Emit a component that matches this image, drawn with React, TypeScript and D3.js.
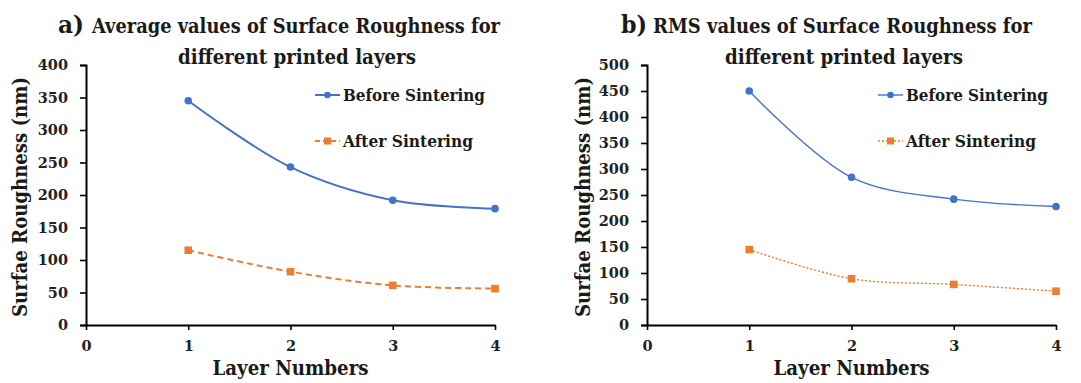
import React, { useEffect, useRef } from "react";
import * as d3 from "d3";

const layers = [1, 2, 3, 4];
const xTicks = [0, 1, 2, 3, 4];
const avgBefore = [345, 243, 192, 179];
const avgAfter = [115, 82, 61, 56];
const rmsBefore = [450, 284, 242, 228];
const rmsAfter = [145, 89, 78, 65];
const avgYTicks = [0, 50, 100, 150, 200, 250, 300, 350, 400];
const rmsYTicks = [0, 50, 100, 150, 200, 250, 300, 350, 400, 450, 500];
const seriesNames = ["Before Sintering", "After Sintering"];

const BLUE = "#4472C4";
const ORANGE = "#ED7D31";
const FONT = "'DejaVu Serif', serif";
const INK = "#1a1a1a";

type PanelCfg = {
  letter: string;
  title1: string;
  title2: string;
  before: number[];
  after: number[];
  yTicks: number[];
  x0: number;
  x1: number;
  letterX: number;
  title1X: number;
  title1W: number;
  title2X: number;
  yLabelX: number;
  legendX: number;
  thin: boolean;
};

const panels: PanelCfg[] = [
  {
    letter: "a)",
    title1: "Average values of Surface Roughness for",
    title2: "different printed layers",
    before: avgBefore,
    after: avgAfter,
    yTicks: avgYTicks,
    x0: 86,
    x1: 495,
    letterX: 58,
    title1X: 92,
    title1W: 408,
    title2X: 178,
    yLabelX: 27,
    legendX: 315,
    thin: false,
  },
  {
    letter: "b)",
    title1: "RMS values of Surface Roughness for",
    title2: "different printed layers",
    before: rmsBefore,
    after: rmsAfter,
    yTicks: rmsYTicks,
    x0: 647,
    x1: 1056,
    letterX: 621,
    title1X: 653,
    title1W: 379,
    title2X: 725,
    yLabelX: 590,
    legendX: 878,
    thin: true,
  },
];

const Y0 = 325;
const Y1 = 65;

export default function App() {
  const ref = useRef<SVGSVGElement>(null);

  useEffect(() => {
    const svg = d3.select(ref.current);
    svg.selectAll("*").remove();

    panels.forEach((p) => {
      const g = svg.append("g");
      const x = d3.scaleLinear().domain([0, 4]).range([p.x0, p.x1]);
      const yMax = p.yTicks[p.yTicks.length - 1];
      const y = d3.scaleLinear().domain([0, yMax]).range([Y0, Y1]);

      const txt = (sel: any) =>
        sel.attr("font-family", FONT).attr("font-weight", "bold").attr("fill", INK);

      // Titles
      g.append("text").attr("x", p.letterX).attr("y", 33).call(txt)
        .attr("font-size", 25).attr("textLength", 26).attr("lengthAdjust", "spacingAndGlyphs")
        .text(p.letter);
      g.append("text").attr("x", p.title1X).attr("y", 33).call(txt)
        .attr("font-size", 19.5).attr("textLength", p.title1W).attr("lengthAdjust", "spacingAndGlyphs")
        .text(p.title1);
      g.append("text").attr("x", p.title2X).attr("y", 64).call(txt)
        .attr("font-size", 19.5).attr("textLength", 238).attr("lengthAdjust", "spacingAndGlyphs")
        .text(p.title2);

      // Y axis
      const ya = g.append("g").attr("transform", `translate(${p.x0},0)`)
        .call(d3.axisLeft(y).tickValues(p.yTicks).tickSize(6).tickPadding(12).tickSizeOuter(6));
      // X axis
      const xa = g.append("g").attr("transform", `translate(0,${Y0})`)
        .call(d3.axisBottom(x).tickValues(xTicks).tickSize(5).tickPadding(11).tickSizeOuter(0).tickFormat(d3.format("d")));
      [ya, xa].forEach((a) => {
        a.select(".domain").attr("stroke", "#000").attr("stroke-width", 2);
        a.selectAll(".tick line").attr("stroke", "#000").attr("stroke-width", 1.6);
        a.selectAll("text").attr("font-family", FONT).attr("font-weight", "bold")
          .attr("font-size", 14.5).attr("fill", "#222");
      });

      // Axis labels
      g.append("text")
        .attr("transform", `translate(${p.yLabelX},${197}) rotate(-90)`)
        .attr("text-anchor", "middle").call(txt)
        .attr("font-size", 20).attr("textLength", 240).attr("lengthAdjust", "spacingAndGlyphs")
        .text("Surfae Roughness (nm)");
      g.append("text").attr("x", x(2)).attr("y", 375).attr("text-anchor", "middle").call(txt)
        .attr("font-size", 21).attr("textLength", 156).attr("lengthAdjust", "spacingAndGlyphs")
        .text("Layer Numbers");

      const line = d3.line<number>()
        .x((_, i) => x(layers[i]))
        .y((d) => y(d))
        .curve(d3.curveCatmullRom.alpha(0.5));

      const lw = p.thin ? 1.4 : 2;
      const series = [
        { vals: p.before, color: BLUE, dash: null as string | null, shape: "circle" },
        { vals: p.after, color: ORANGE, dash: p.thin ? "2,2" : "6,4", shape: "square" },
      ];

      series.forEach((s) => {
        const path = g.append("path").attr("d", line(s.vals)).attr("fill", "none")
          .attr("stroke", s.color).attr("stroke-width", lw);
        if (s.dash) path.attr("stroke-dasharray", s.dash);
        s.vals.forEach((v, i) => {
          if (s.shape === "circle") {
            g.append("circle").attr("cx", x(layers[i])).attr("cy", y(v)).attr("r", 3.8)
              .attr("fill", s.color);
          } else {
            g.append("rect").attr("x", x(layers[i]) - 3.8).attr("y", y(v) - 3.8)
              .attr("width", 7.6).attr("height", 7.6).attr("fill", s.color);
          }
        });
      });

      // Legend
      const legY = [95, 141];
      const legW = [142, 130];
      series.forEach((s, i) => {
        const ly = legY[i];
        const l = g.append("line").attr("x1", p.legendX).attr("x2", p.legendX + 25)
          .attr("y1", ly).attr("y2", ly).attr("stroke", s.color).attr("stroke-width", lw);
        if (s.dash) l.attr("stroke-dasharray", p.thin ? "2,2" : "5,3");
        if (s.shape === "circle") {
          g.append("circle").attr("cx", p.legendX + 12.5).attr("cy", ly).attr("r", 3.3).attr("fill", s.color);
        } else {
          g.append("rect").attr("x", p.legendX + 9).attr("y", ly - 3.5).attr("width", 7).attr("height", 7).attr("fill", s.color);
        }
        g.append("text").attr("x", p.legendX + 28).attr("y", ly + 6).call(txt)
          .attr("font-size", 17.5).attr("textLength", legW[i]).attr("lengthAdjust", "spacingAndGlyphs")
          .text(seriesNames[i]);
      });
    });
  }, []);

  return (
    <svg ref={ref} width={1081} height={383}
      style={{ position: "absolute", left: 0, top: 0, background: "#fff" }} />
  );
}
